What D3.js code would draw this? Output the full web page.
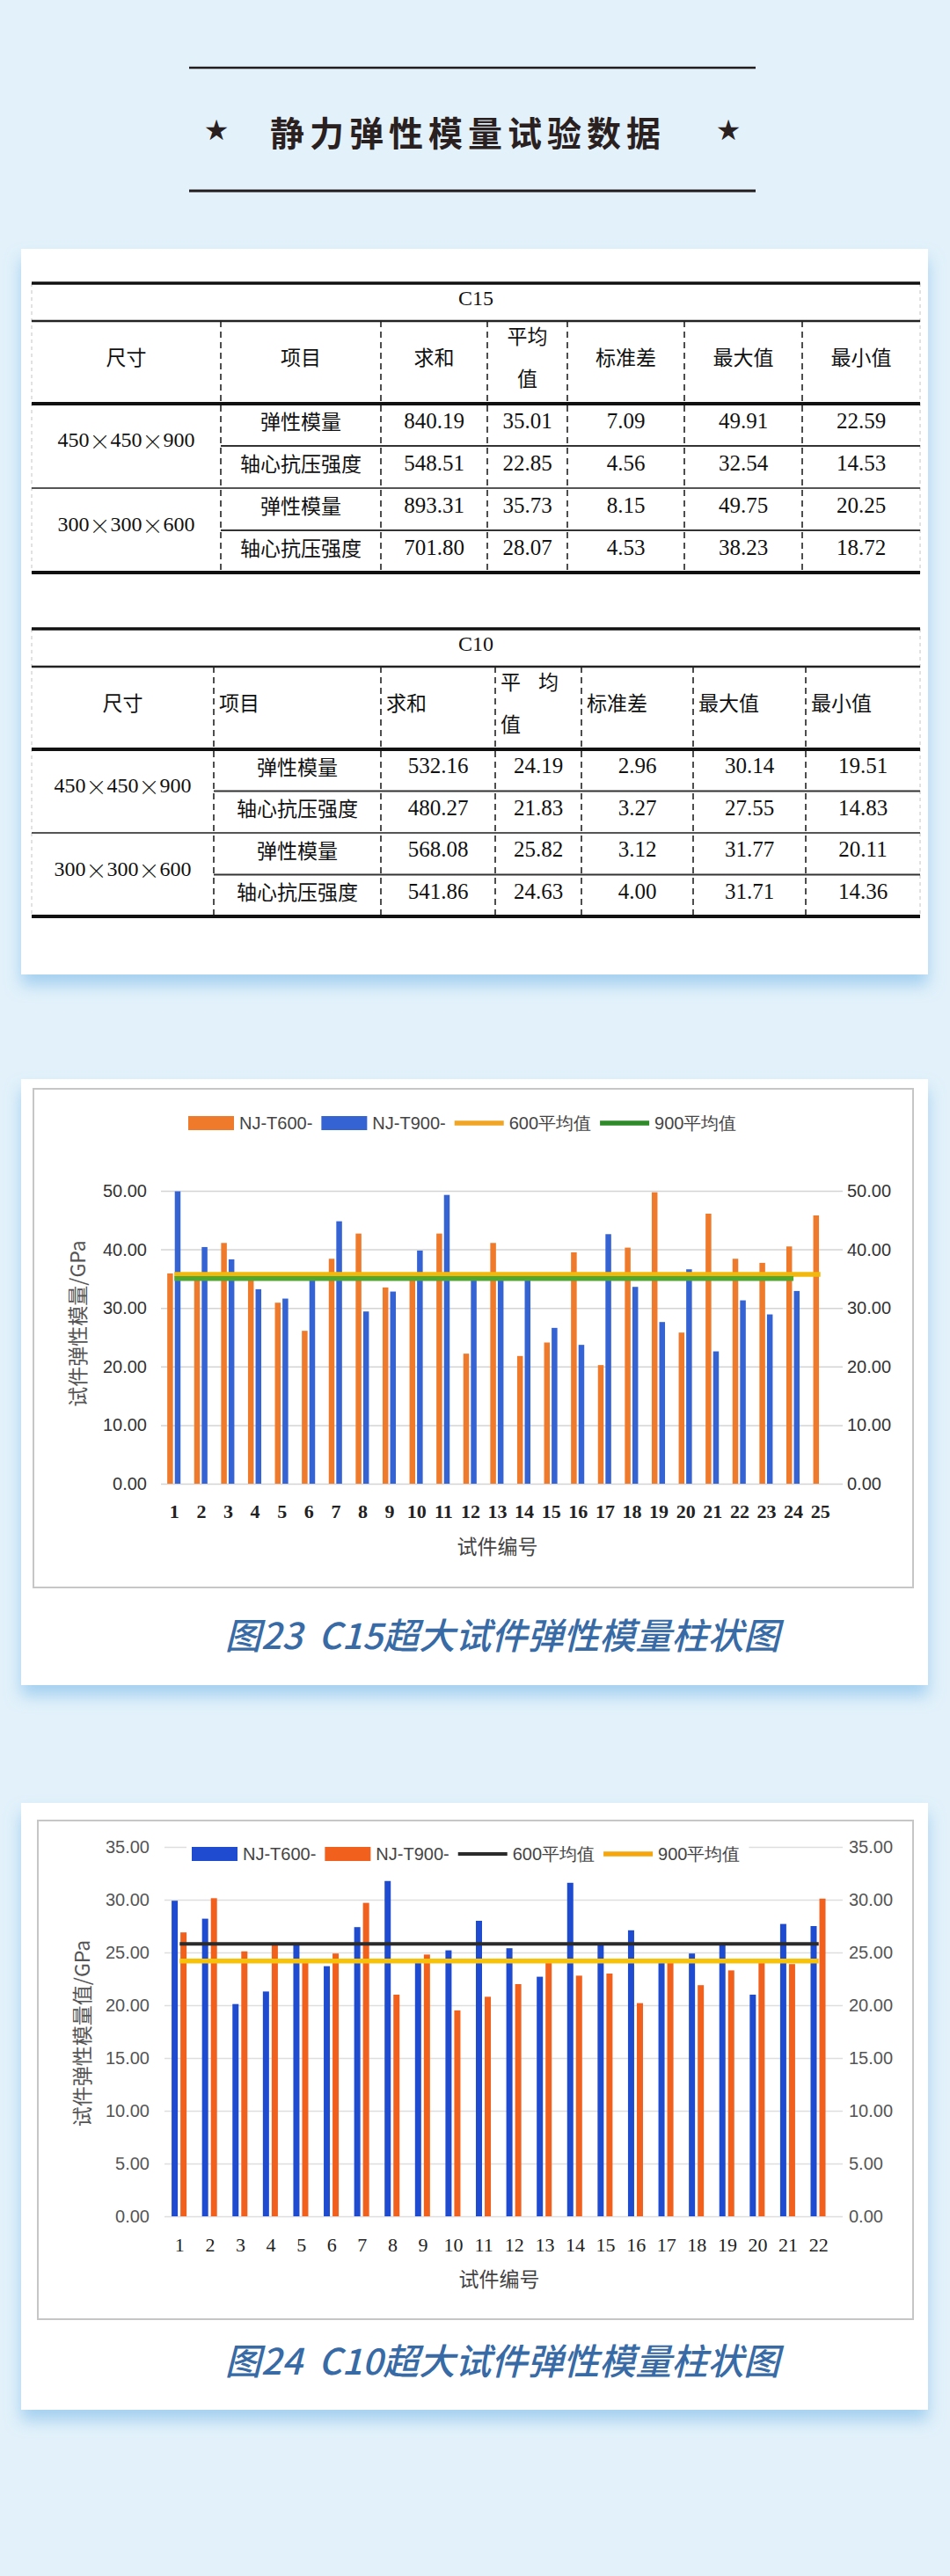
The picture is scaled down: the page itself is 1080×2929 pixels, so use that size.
<!DOCTYPE html>
<html>
<head>
<meta charset="utf-8">
<script src="https://cdn.jsdelivr.net/npm/d3@7"></script>
<style>
  body { margin: 0; background: #e2f1fa; }
  svg { display: block; }
</style>
</head>
<body>
<script>
// ---- table data ----
var c15Header = ["尺寸", "项目", "求和", "平均值", "标准差", "最大值", "最小值"];
var c10Header = ["尺寸", "项目", "求和", "平均值", "标准差", "最大值", "最小值"];
var sizeLabels = ["450×450×900", "300×300×600"];
var itemLabels = ["弹性模量", "轴心抗压强度", "弹性模量", "轴心抗压强度"];
var c15Values = [
  [840.19, 35.01, 7.09, 49.91, 22.59],
  [548.51, 22.85, 4.56, 32.54, 14.53],
  [893.31, 35.73, 8.15, 49.75, 20.25],
  [701.80, 28.07, 4.53, 38.23, 18.72]
];
var c10Values = [
  [532.16, 24.19, 2.96, 30.14, 19.51],
  [480.27, 21.83, 3.27, 27.55, 14.83],
  [568.08, 25.82, 3.12, 31.77, 20.11],
  [541.86, 24.63, 4.00, 31.71, 14.36]
];

// ---- chart data ----
var c15Cats = ["1","2","3","4","5","6","7","8","9","10","11","12","13","14","15","16","17","18","19","20","21","22","23","24","25"];
var c15T600 = [35.9, 35.7, 41.1, 35.3, 30.9, 26.1, 38.4, 42.7, 33.5, 35.2, 42.7, 22.2, 41.1, 21.8, 24.1, 39.5, 20.25, 40.3, 49.75, 25.8, 46.1, 38.4, 37.7, 40.5, 45.8];
var c15T900 = [49.91, 40.4, 38.3, 33.2, 31.6, 35.4, 44.8, 29.4, 32.8, 39.8, 49.3, 35.4, 35.4, 35.2, 26.6, 23.7, 42.6, 33.6, 27.6, 36.6, 22.59, 31.3, 28.9, 32.9];
var c15Avg600 = 35.73;
var c15Avg900 = 35.01;
var c15YTicks = [0, 10, 20, 30, 40, 50];

var c10Cats = ["1","2","3","4","5","6","7","8","9","10","11","12","13","14","15","16","17","18","19","20","21","22"];
var c10T600 = [29.9, 28.2, 20.11, 21.3, 25.8, 23.7, 27.4, 31.77, 24.1, 25.2, 28.0, 25.4, 22.7, 31.6, 25.8, 27.1, 24.1, 24.9, 25.8, 21.0, 27.7, 27.5];
var c10T900 = [26.9, 30.14, 25.1, 25.8, 24.2, 24.9, 29.7, 21.0, 24.8, 19.51, 20.8, 22.0, 24.2, 22.8, 23.0, 20.2, 24.1, 21.9, 23.3, 24.2, 23.9, 30.1];
var c10Avg600 = 25.82;
var c10Avg900 = 24.19;
var c10YTicks = [0, 5, 10, 15, 20, 25, 30, 35];

var CJK = "'Noto Sans CJK SC', 'Noto Sans', sans-serif";
var SERIF = "'Liberation Serif', 'DejaVu Serif', serif";
var SANS = "'Liberation Sans', Arial, sans-serif";

var svg = d3.select("body").append("svg")
  .attr("width", 1080)
  .attr("height", 2929);

var defs = svg.append("defs");
var shadow = defs.append("filter").attr("id", "cardShadow")
  .attr("x", "-5%").attr("y", "-5%").attr("width", "110%").attr("height", "115%");
shadow.append("feDropShadow")
  .attr("dx", 0).attr("dy", 12).attr("stdDeviation", 9)
  .attr("flood-color", "#8fc4ec").attr("flood-opacity", 0.75);

svg.append("rect").attr("width", 1080).attr("height", 2929).attr("fill", "#e2f1fa");

// ---- page heading ----
svg.append("line").attr("x1", 215).attr("x2", 859).attr("y1", 77).attr("y2", 77)
  .attr("stroke", "#231c1c").attr("stroke-width", 2.5);
svg.append("line").attr("x1", 215).attr("x2", 859).attr("y1", 217).attr("y2", 217)
  .attr("stroke", "#231c1c").attr("stroke-width", 3);
svg.append("text").attr("x", 532).attr("y", 149)
  .attr("text-anchor", "middle").attr("dominant-baseline", "central")
  .style("font-family", CJK).style("font-weight", 700).style("font-size", "39px")
  .style("letter-spacing", "6px").attr("fill", "#2a2020")
  .text("静力弹性模量试验数据");
[246, 828].forEach(function(sx) {
  svg.append("text").attr("x", sx).attr("y", 148)
    .attr("text-anchor", "middle").attr("dominant-baseline", "central")
    .style("font-family", "'DejaVu Sans', sans-serif").style("font-size", "32px")
    .attr("fill", "#2a2020").text("★");
});

// ---- cards ----
var cards = [
  {y: 283, h: 825},
  {y: 1227, h: 689},
  {y: 2050, h: 690}
];
svg.selectAll("rect.card").data(cards).enter().append("rect")
  .attr("class", "card")
  .attr("x", 24).attr("width", 1031)
  .attr("y", function(d) { return d.y; })
  .attr("height", function(d) { return d.h; })
  .attr("fill", "#fff")
  .attr("filter", "url(#cardShadow)");

// ---- tables ----
function hline(g, y, x1, x2, w, c) {
  g.append("line").attr("x1", x1).attr("x2", x2).attr("y1", y).attr("y2", y)
    .attr("stroke", c).attr("stroke-width", w);
}

function drawTable(t) {
  var g = svg.append("g");
  var cols = t.cols;
  var L = cols[0], R = cols[cols.length - 1];
  var rowH = (t.bottom - t.headBottom) / 4;

  // faint outer dashes
  [L, R].forEach(function(xx) {
    g.append("line").attr("x1", xx).attr("x2", xx).attr("y1", t.top).attr("y2", t.bottom)
      .attr("stroke", "#c4c4c4").attr("stroke-width", 1).attr("stroke-dasharray", "4,4");
  });
  // inner dashed columns
  g.selectAll("line.col").data(cols.slice(1, -1)).enter().append("line")
    .attr("x1", function(d) { return d; }).attr("x2", function(d) { return d; })
    .attr("y1", t.titleBottom).attr("y2", t.bottom)
    .attr("stroke", "#222").attr("stroke-width", 1.6).attr("stroke-dasharray", "7,5");

  hline(g, t.top, L, R, 3.5, "#111");
  hline(g, t.titleBottom, L, R, 2.5, "#222");
  hline(g, t.headBottom, L, R, 4, "#111");
  hline(g, t.headBottom + rowH, cols[1], R, 2.2, "#333");
  hline(g, t.headBottom + 2 * rowH, L, R, 2.2, "#555");
  hline(g, t.headBottom + 3 * rowH, cols[1], R, 2.2, "#333");
  hline(g, t.bottom, L, R, 4, "#111");

  g.append("text").attr("x", (L + R) / 2).attr("y", (t.top + t.titleBottom) / 2 - 5)
    .attr("text-anchor", "middle").attr("dominant-baseline", "central")
    .style("font-family", SERIF).style("font-size", "24px").attr("fill", "#111")
    .text(t.name);

  var hc = (t.titleBottom + t.headBottom) / 2;
  t.header.forEach(function(h, i) {
    var cx = (cols[i] + cols[i + 1]) / 2;
    var left = i > 0 && t.headAlign === "start";
    var tx = left ? cols[i] + 6 : cx;
    var anchor = left ? "start" : "middle";
    if (i === 3) {
      g.append("text").attr("x", tx).attr("y", hc - 31)
        .attr("text-anchor", anchor).attr("dominant-baseline", "central")
        .style("font-family", CJK).style("font-size", "23px")
        .style("letter-spacing", left ? "20px" : "0px").attr("fill", "#111")
        .text(h.slice(0, 2));
      g.append("text").attr("x", tx).attr("y", hc + 17)
        .attr("text-anchor", anchor).attr("dominant-baseline", "central")
        .style("font-family", CJK).style("font-size", "23px").attr("fill", "#111")
        .text(h.slice(2));
    } else {
      g.append("text").attr("x", tx).attr("y", hc - 7)
        .attr("text-anchor", anchor).attr("dominant-baseline", "central")
        .style("font-family", CJK).style("font-size", "23px").attr("fill", "#111")
        .text(h);
    }
  });

  sizeLabels.forEach(function(s, i) {
    var yy = t.headBottom + (2 * i + 1) * rowH - 7;
    var tx = g.append("text").attr("x", (cols[0] + cols[1]) / 2).attr("y", yy)
      .attr("text-anchor", "middle").attr("dominant-baseline", "central")
      .attr("fill", "#111").style("font-size", "24px");
    s.split("×").forEach(function(part, k) {
      if (k > 0) tx.append("tspan").style("font-family", CJK).style("font-weight", 300).text("×");
      tx.append("tspan").style("font-family", SERIF).text(part);
    });
  });

  itemLabels.forEach(function(s, r) {
    var yy = t.headBottom + (r + 0.5) * rowH - 5;
    g.append("text").attr("x", (cols[1] + cols[2]) / 2).attr("y", yy)
      .attr("text-anchor", "middle").attr("dominant-baseline", "central")
      .style("font-family", CJK).style("font-size", "23px").attr("fill", "#111")
      .text(s);
    t.values[r].forEach(function(v, c) {
      g.append("text").attr("x", (cols[c + 2] + cols[c + 3]) / 2).attr("y", yy)
        .attr("text-anchor", "middle").attr("dominant-baseline", "central")
        .style("font-family", SERIF).style("font-size", "25px").attr("fill", "#111")
        .text(v.toFixed(2));
    });
  });
}

drawTable({
  name: "C15", header: c15Header, values: c15Values, headAlign: "middle",
  cols: [36, 251, 433, 554, 645, 778, 912, 1046],
  top: 322, titleBottom: 365, headBottom: 459, bottom: 651
});
drawTable({
  name: "C10", header: c10Header, values: c10Values, headAlign: "start",
  cols: [36, 243, 433, 563, 661, 788, 916, 1046],
  top: 715, titleBottom: 758, headBottom: 852, bottom: 1042
});

// ---- bar charts ----
function drawChart(cfg) {
  var g = svg.append("g");
  g.append("rect")
    .attr("x", cfg.box[0]).attr("y", cfg.box[1]).attr("width", cfg.box[2]).attr("height", cfg.box[3])
    .attr("fill", "#fff").attr("stroke", "#c6c6c6").attr("stroke-width", 2);

  var x = d3.scaleBand().domain(cfg.cats).range([cfg.left, cfg.right]);
  var y = d3.scaleLinear().domain([0, cfg.yMax]).range([cfg.bottom, cfg.top]);
  var bw = x.bandwidth();
  var x1 = d3.scaleBand().domain(cfg.series.map(function(s) { return s.name; }))
    .range([bw * cfg.sub[0], bw * cfg.sub[1]]);

  // gridlines
  var grid = g.append("g").attr("transform", "translate(" + cfg.left + ",0)")
    .call(d3.axisRight(y).tickValues(cfg.ticks).tickSize(cfg.right - cfg.left + 10).tickFormat(""));
  grid.select(".domain").remove();
  grid.selectAll("line").attr("stroke", cfg.gridColor).attr("stroke-width", 1.5);

  // left and right tick labels
  var yl = g.append("g").attr("transform", "translate(" + cfg.leftLabelX + ",0)")
    .call(d3.axisLeft(y).tickValues(cfg.ticks).tickSize(0).tickPadding(0).tickFormat(d3.format(".2f")));
  var yr = g.append("g").attr("transform", "translate(" + cfg.rightLabelX + ",0)")
    .call(d3.axisRight(y).tickValues(cfg.ticks).tickSize(0).tickPadding(0).tickFormat(d3.format(".2f")));
  [yl, yr].forEach(function(a) {
    a.select(".domain").remove();
    a.selectAll("text").style("font-family", SANS).style("font-size", "20px")
      .style("font-weight", cfg.tickWeight).attr("fill", cfg.tickColor);
  });

  // bars
  cfg.series.forEach(function(s) {
    g.selectAll(null).data(s.values).enter().append("rect")
      .attr("x", function(d, i) { return x(cfg.cats[i]) + x1(s.name) + (x1.bandwidth() - cfg.barW) / 2; })
      .attr("y", function(d) { return y(d); })
      .attr("width", cfg.barW)
      .attr("height", function(d) { return y(0) - y(d); })
      .attr("fill", s.color);
  });

  // average lines
  cfg.avgs.forEach(function(a) {
    var line = d3.line()
      .x(function(c) { return x(c) + bw / 2; })
      .y(function() { return y(a.value); });
    g.append("path").datum(cfg.cats.slice(0, a.n))
      .attr("d", line).attr("fill", "none")
      .attr("stroke", a.color).attr("stroke-width", a.width);
  });

  // legend
  var lg = g.append("g");
  var lx = cfg.legendX;
  var items = cfg.series.map(function(s) { return {name: s.name, color: s.color, type: "rect"}; })
    .concat(cfg.avgs.map(function(a) { return {name: a.name, color: a.legendColor || a.color, type: "line", w: a.width}; }));
  var bg = lg.append("rect").attr("fill", "#fff");
  items.forEach(function(it) {
    if (it.type === "rect") {
      lg.append("rect").attr("x", lx).attr("y", cfg.legendY - 8).attr("width", 52).attr("height", 16)
        .attr("fill", it.color);
    } else {
      lg.append("line").attr("x1", lx).attr("x2", lx + 56).attr("y1", cfg.legendY).attr("y2", cfg.legendY)
        .attr("stroke", it.color).attr("stroke-width", it.w);
    }
    lx += it.type === "rect" ? 58 : 62;
    var t = lg.append("text").attr("x", lx).attr("y", cfg.legendY)
      .attr("dominant-baseline", "central")
      .style("font-family", SANS).style("font-size", "20px").attr("fill", "#444")
      .text(it.name);
    lx += t.node().getComputedTextLength() + 10;
  });
  bg.attr("x", cfg.legendX - 6).attr("y", cfg.legendY - 14).attr("width", lx - cfg.legendX + 6).attr("height", 28);

  // x tick labels
  var xa = g.append("g").attr("transform", "translate(0," + cfg.xLabelY + ")")
    .call(d3.axisBottom(x).tickSize(0).tickPadding(0));
  xa.select(".domain").remove();
  xa.selectAll("text").attr("dy", null).attr("dominant-baseline", "central")
    .style("font-family", SERIF).style("font-size", "22px")
    .style("font-weight", cfg.xLabelWeight).attr("fill", "#222");

  // axis titles
  g.append("text").attr("x", (cfg.left + cfg.right) / 2).attr("y", cfg.xTitleY)
    .attr("text-anchor", "middle").attr("dominant-baseline", "central")
    .style("font-family", CJK).style("font-size", "23px").attr("fill", "#444")
    .text("试件编号");
  g.append("text")
    .attr("transform", "translate(" + cfg.yTitleX + "," + cfg.yTitleY + ") rotate(-90)")
    .attr("text-anchor", "middle").attr("dominant-baseline", "central")
    .style("font-family", CJK).style("font-size", "23px").attr("fill", "#555")
    .text(cfg.yTitle);

  // caption
  svg.append("text").attr("x", 571).attr("y", cfg.captionY)
    .attr("text-anchor", "middle").attr("dominant-baseline", "central")
    .style("font-family", CJK).style("font-size", "41px").style("font-style", "italic")
    .style("font-weight", 500)
    .attr("fill", "#386ba5")
    .attr("xml:space", "preserve")
    .text(cfg.caption);
}

drawChart({
  cats: c15Cats, yMax: 50, ticks: c15YTicks,
  series: [
    {name: "NJ-T600-", values: c15T600, color: "#ef7a2c"},
    {name: "NJ-T900-", values: c15T900, color: "#3563d3"}
  ],
  avgs: [
    {name: "600平均值", value: c15Avg600, n: c15T600.length, color: "#f3b80d", legendColor: "#f0a524", width: 5.5},
    {name: "900平均值", value: c15Avg900, n: c15T900.length, color: "#52a82f", legendColor: "#2f8a2a", width: 5.5}
  ],
  box: [38, 1238, 1000, 567],
  left: 183, right: 948, top: 1354, bottom: 1687,
  sub: [0.2, 0.76], barW: 6.5,
  gridColor: "#d4d4d4", tickColor: "#333", tickWeight: 400,
  leftLabelX: 167, rightLabelX: 963,
  legendX: 214, legendY: 1277,
  xLabelY: 1718, xLabelWeight: 700, xTitleY: 1757,
  yTitle: "试件弹性模量/GPa", yTitleX: 87, yTitleY: 1505,
  captionY: 1857, caption: "图23  C15超大试件弹性模量柱状图"
});

drawChart({
  cats: c10Cats, yMax: 35, ticks: c10YTicks,
  series: [
    {name: "NJ-T600-", values: c10T600, color: "#1f4bd0"},
    {name: "NJ-T900-", values: c10T900, color: "#f2601e"}
  ],
  avgs: [
    {name: "600平均值", value: c10Avg600, n: c10T600.length, color: "#2b2b2b", width: 4},
    {name: "900平均值", value: c10Avg900, n: c10T900.length, color: "#f7c20a", legendColor: "#f5a60a", width: 5.5}
  ],
  box: [43, 2070, 995, 567],
  left: 187, right: 948, top: 2100, bottom: 2520,
  sub: [0.19, 0.77], barW: 7,
  gridColor: "#dedede", tickColor: "#555", tickWeight: 400,
  leftLabelX: 170, rightLabelX: 965,
  legendX: 218, legendY: 2108,
  xLabelY: 2552, xLabelWeight: 400, xTitleY: 2590,
  yTitle: "试件弹性模量值/GPa", yTitleX: 92, yTitleY: 2312,
  captionY: 2682, caption: "图24  C10超大试件弹性模量柱状图"
});
</script>
</body>
</html>
